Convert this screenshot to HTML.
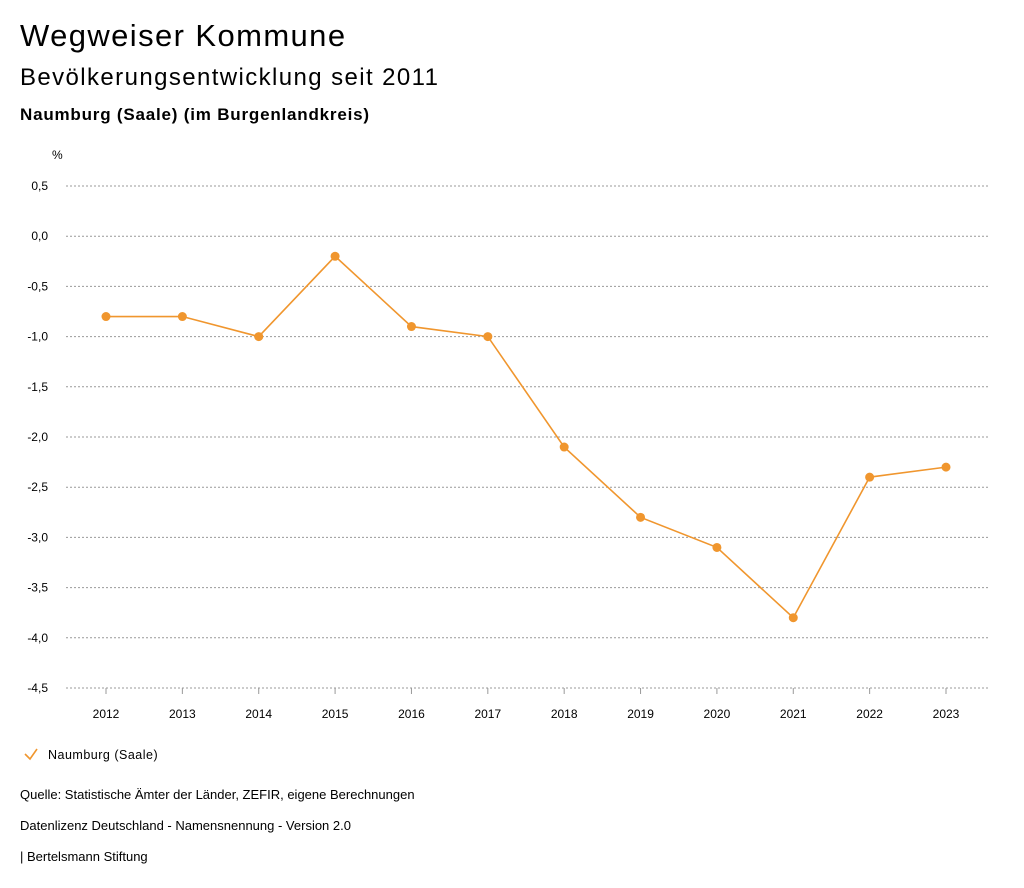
<!DOCTYPE html>
<html><head><meta charset="utf-8"><style>
body{margin:0;background:#fff;font-family:"Liberation Sans",sans-serif;color:#000;}
.wrap{position:relative;width:1024px;height:888px;overflow:hidden;}
.t{position:absolute;left:20px;white-space:nowrap;}
</style></head><body>
<div class="wrap">
<div class="t" style="top:18px;font-size:31px;letter-spacing:1.4px;">Wegweiser Kommune</div>
<div class="t" style="top:64px;font-size:24px;letter-spacing:1.4px;">Bevölkerungsentwicklung seit 2011</div>
<div class="t" style="top:105px;font-size:17px;font-weight:bold;letter-spacing:0.8px;">Naumburg (Saale) (im Burgenlandkreis)</div>
<svg id="c" width="1024" height="888" style="position:absolute;left:0;top:0"></svg>
<div class="t" style="top:787px;font-size:13px;">Quelle: Statistische Ämter der Länder, ZEFIR, eigene Berechnungen</div>
<div class="t" style="top:818px;font-size:13px;">Datenlizenz Deutschland - Namensnennung - Version 2.0</div>
<div class="t" style="top:849px;font-size:13px;">| Bertelsmann Stiftung</div>
</div>
<script>
const years=[2012,2013,2014,2015,2016,2017,2018,2019,2020,2021,2022,2023];
const values=[-0.8,-0.8,-1.0,-0.2,-0.9,-1.0,-2.1,-2.8,-3.1,-3.8,-2.4,-2.3];
const yTicks=[0.5,0,-0.5,-1,-1.5,-2,-2.5,-3,-3.5,-4,-4.5];
const color="#f0962e";
const svg=document.getElementById('c');
const NS="http://www.w3.org/2000/svg";
const x=i=>106+i*(946-106)/(years.length-1);
const y=v=>236.2-v*100.4;
function mk(t,a){const e=document.createElementNS(NS,t);for(const k in a)e.setAttribute(k,a[k]);svg.appendChild(e);return e;}
let u=mk('text',{x:52,y:159,'font-size':12,'font-family':'Liberation Sans'});u.textContent='%';


yTicks.forEach(v=>{
 const l=mk('line',{x1:66,x2:990,y1:y(v),y2:y(v),stroke:'#999','stroke-dasharray':'2,2','stroke-width':1});
 
 
 const t=mk('text',{x:48,y:y(v)+4,'font-size':12,'text-anchor':'end','font-family':'Liberation Sans'});
 t.textContent=v.toFixed(1).replace('.',',');
 
 
});
years.forEach((yr,i)=>{
 const tk=mk('line',{x1:x(i),x2:x(i),y1:688,y2:694,stroke:'#999'});
 
 
 const t=mk('text',{x:x(i),y:718,'font-size':12,'text-anchor':'middle','font-family':'Liberation Sans'});
 t.textContent=yr;
 
 
});
const p=mk('polyline',{points:values.map((v,i)=>x(i)+','+y(v)).join(' '),fill:'none',stroke:color,'stroke-width':1.6});


values.forEach((v,i)=>{
 const c=mk('circle',{cx:x(i),cy:y(v),r:4.5,fill:color});
 
 
});
const lg=mk('path',{d:'M25 754 L30 759 L37 749',fill:'none',stroke:color,'stroke-width':1.6});


const lt=mk('text',{x:48,y:759,'font-size':12.5,'font-family':'Liberation Sans','letter-spacing':0.5});
lt.textContent='Naumburg (Saale)';


</script>
</body></html>
